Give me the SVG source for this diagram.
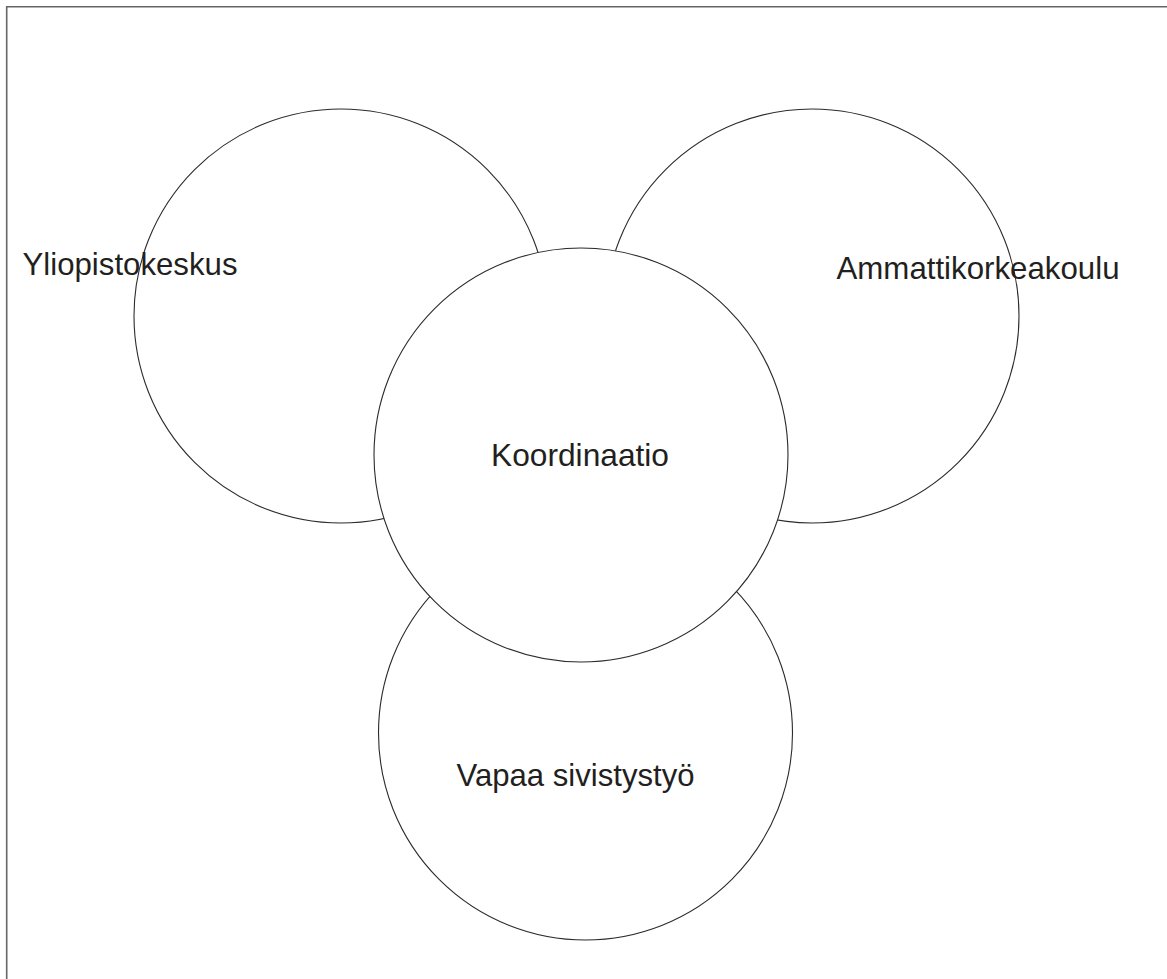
<svg xmlns="http://www.w3.org/2000/svg" width="1167" height="979" viewBox="0 0 1167 979">
<style>
.c{fill:#fff;stroke:#2b2b2b;stroke-width:1.1}
.t{font-family:"Liberation Sans",Arial,sans-serif;font-size:32px;fill:#231f20}
</style>
<rect width="1167" height="979" fill="#fff"/>
<path d="M6.7,979 V6.7 H1167" fill="none" stroke="#666" stroke-width="1.6"/>
<g id="connectors"/>
<g id="yliopistokeskus-circle"><circle class="c" cx="341" cy="316" r="207"/></g>
<g id="ammattikorkeakoulu-circle"><circle class="c" cx="812" cy="316" r="207"/></g>
<g id="vapaa-circle"><circle class="c" cx="585.5" cy="733" r="207"/></g>
<g id="koordinaatio"><circle class="c" cx="581" cy="455" r="207"/>
<text class="t" x="491" y="466" textLength="178" lengthAdjust="spacingAndGlyphs">Koordinaatio</text></g>
<g id="yliopistokeskus"><text class="t" x="22.5" y="275" textLength="215" lengthAdjust="spacingAndGlyphs">Yliopistokeskus</text></g>
<g id="ammattikorkeakoulu"><text class="t" x="836.5" y="279" textLength="283" lengthAdjust="spacingAndGlyphs">Ammattikorkeakoulu</text></g>
<g id="vapaa"><text class="t" x="456.5" y="786" textLength="238" lengthAdjust="spacingAndGlyphs">Vapaa sivistystyö</text></g>
</svg>
